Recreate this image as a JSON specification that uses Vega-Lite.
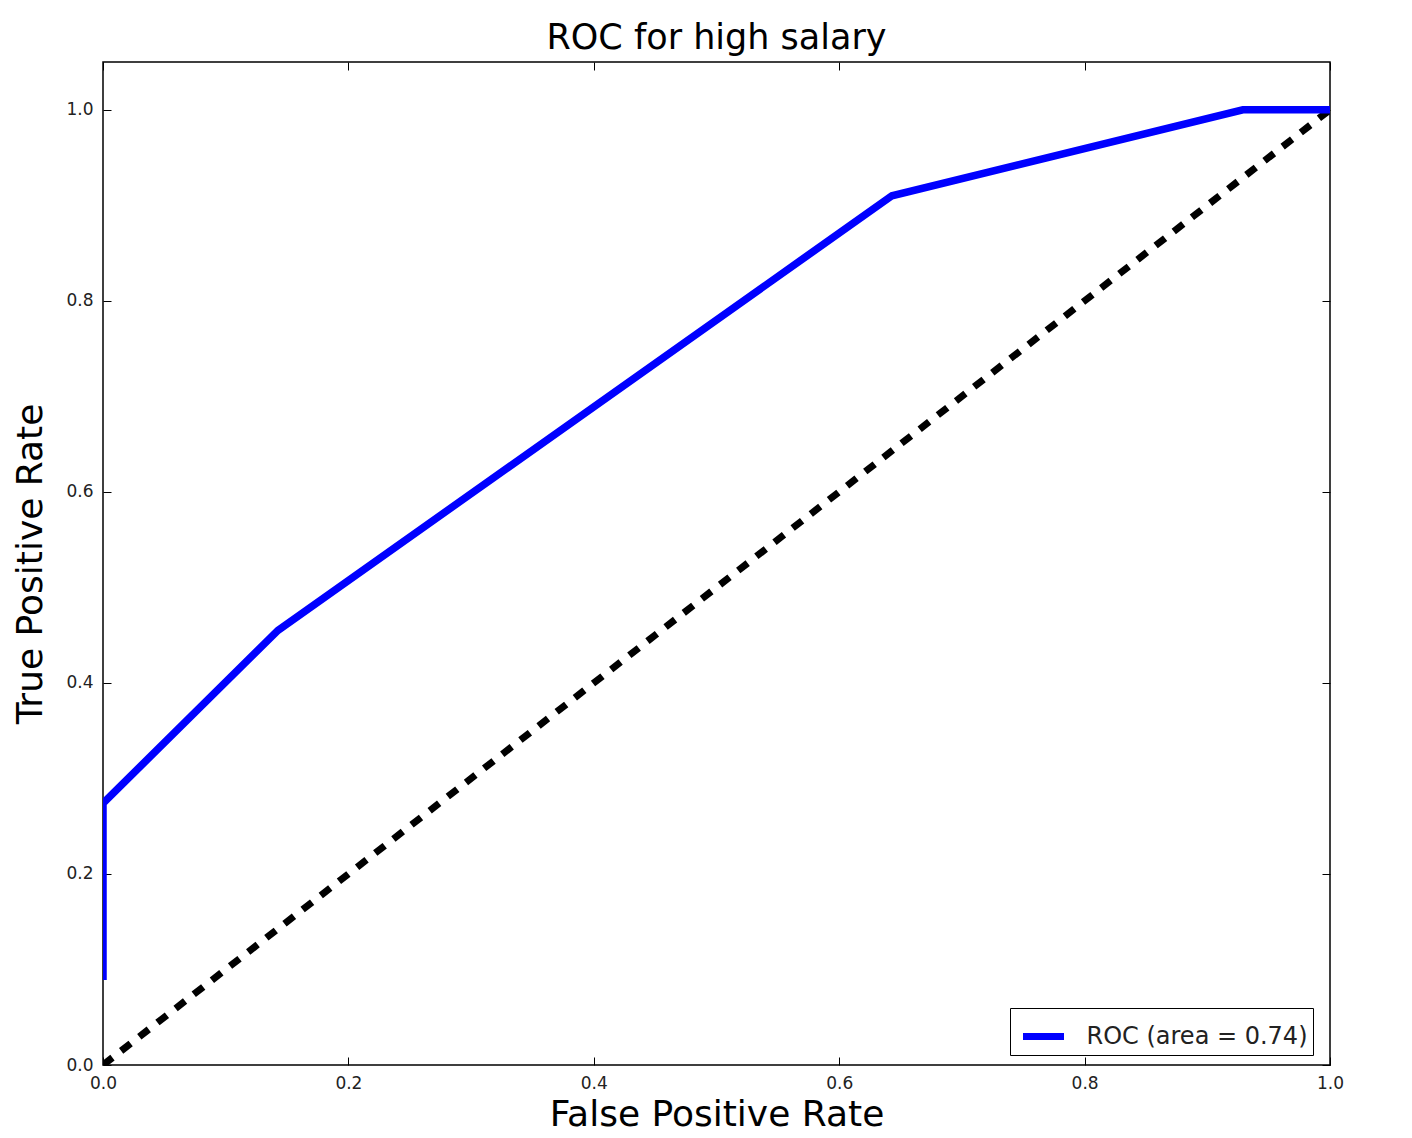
{
  "$schema": "https://vega.github.io/schema/vega-lite/v6.json",
  "autosize": "none",
  "width": 1227,
  "height": 1003,
  "padding": {"left": 103, "top": 62, "right": 82, "bottom": 73},
  "background": "white",
  "config": {
    "font": "DejaVu Sans",
    "view": {"stroke": "black", "strokeWidth": 1.5},
    "axis": {"grid": false, "domain": false, "tickColor": "black", "tickSize": -8, "tickWidth": 1, "labelFont": "DejaVu Sans", "labelFontSize": 17, "labelColor": "#222", "labelFlush": false, "labelOverlap": false, "titleFont": "DejaVu Sans", "titleFontWeight": "normal", "titleColor": "black"}
  },
  "title": {"text": "ROC for high salary", "fontSize": 35, "fontWeight": "normal", "font": "DejaVu Sans", "color": "black", "offset": 6},
  "layer": [
    {
      "data": {"values": [{"fpr": 0, "tpr": 0}, {"fpr": 1, "tpr": 1}]},
      "mark": {"type": "line", "color": "black", "strokeWidth": 7, "strokeDash": [12, 11], "strokeCap": "butt", "clip": true},
      "encoding": {
        "x": {"field": "fpr", "type": "quantitative", "scale": {"domain": [0, 1], "nice": false, "zero": false},
              "axis": {"orient": "bottom", "title": "False Positive Rate", "titleFontSize": 36, "titlePadding": 6, "values": [0, 0.2, 0.4, 0.6, 0.8, 1.0], "format": ".1f", "labelPadding": 18}},
        "y": {"field": "tpr", "type": "quantitative", "scale": {"domain": [0, 1.05], "nice": false, "zero": false},
              "axis": {"orient": "left", "title": "True Positive Rate", "titleFontSize": 36, "titlePadding": 16, "values": [0, 0.2, 0.4, 0.6, 0.8, 1.0], "format": ".1f", "labelPadding": 18}}
      }
    },
    {
      "data": {"values": [
        {"fpr": 0, "tpr": 0.089, "series": "ROC (area = 0.74)"},
        {"fpr": 0, "tpr": 0.274, "series": "ROC (area = 0.74)"},
        {"fpr": 0.1426, "tpr": 0.455, "series": "ROC (area = 0.74)"},
        {"fpr": 0.643, "tpr": 0.910, "series": "ROC (area = 0.74)"},
        {"fpr": 0.929, "tpr": 1.0, "series": "ROC (area = 0.74)"},
        {"fpr": 1.0, "tpr": 1.0, "series": "ROC (area = 0.74)"}
      ]},
      "mark": {"type": "line", "strokeWidth": 7.5, "clip": true},
      "encoding": {
        "x": {"field": "fpr", "type": "quantitative", "axis": {"orient": "top", "labels": false, "title": null, "values": [0, 0.2, 0.4, 0.6, 0.8, 1.0]}},
        "y": {"field": "tpr", "type": "quantitative", "axis": {"orient": "right", "labels": false, "title": null, "values": [0, 0.2, 0.4, 0.6, 0.8, 1.0]}},
        "color": {"field": "series", "type": "nominal", "scale": {"domain": ["ROC (area = 0.74)"], "range": ["#0000ff"]},
                  "legend": {"title": null, "orient": "none", "legendX": 907, "legendY": 946, "symbolType": "stroke", "symbolStrokeWidth": 7, "symbolSize": 1681, "symbolOffset": 5, "labelFontSize": 24, "labelLimit": 0, "labelFont": "DejaVu Sans", "labelColor": "#222", "labelExpr": "datum.label + '\u00a0\u00a0\u00a0'", "strokeColor": "black", "fillColor": "white", "padding": 4.5, "labelOffset": 19, "cornerRadius": 0}},
        "order": {"field": "tpr"}
      }
    }
  ],
  "resolve": {"axis": {"x": "independent", "y": "independent"}}
}
